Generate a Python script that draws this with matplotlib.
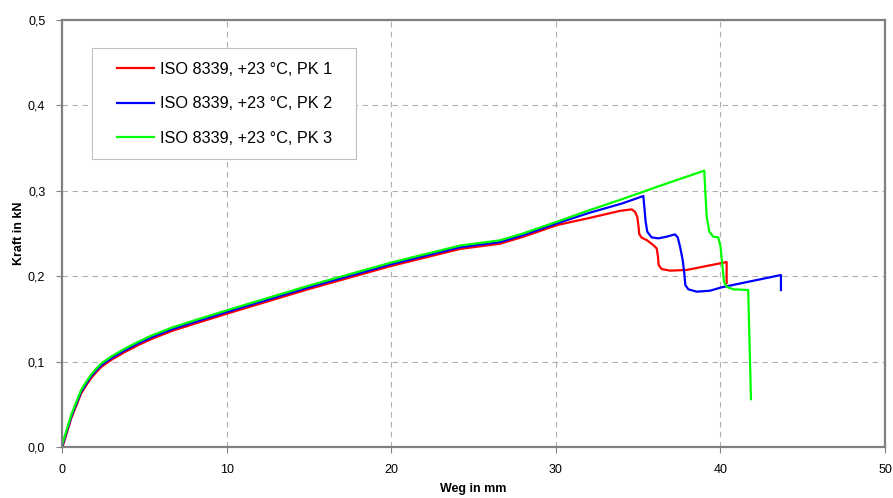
import matplotlib.pyplot as plt
from matplotlib.patches import Rectangle
from matplotlib.ticker import FuncFormatter

plt.rcParams['font.family'] = ['Liberation Sans', 'DejaVu Sans']

# Weg in mm / Kraft in kN
x_start = [0, 0.57, 1.17, 1.5, 1.78, 2.1, 2.4, 3.0, 3.8, 4.6, 5.5, 6.7, 8,
           10, 15, 20, 24.2, 25.4, 26.6, 28, 30.1]
y_start = [0, 0.036, 0.065, 0.075, 0.083, 0.090, 0.096, 0.104, 0.113, 0.121, 0.129,
           0.138, 0.146, 0.158, 0.187, 0.214, 0.234, 0.237, 0.240, 0.248, 0.262]

x_pk1 = x_start + [32, 33.9, 34.61, 34.81, 34.95, 35.03, 35.07, 35.22, 35.52, 35.92,
                   36.13, 36.21, 36.25, 36.43, 36.94, 37.95, 40.38, 40.38]
y_pk1 = [v - 0.002 for v in y_start] + [0.268, 0.2765, 0.2783, 0.2755, 0.2697, 0.258,
                                        0.2494, 0.2451, 0.2424, 0.2365, 0.2326, 0.2228,
                                        0.2131, 0.2084, 0.2065, 0.2073, 0.2166, 0.192]

x_pk2 = x_start + [32, 34, 35.32, 35.38, 35.46, 35.56, 35.82, 36.23, 36.74, 37.24,
                   37.41, 37.55, 37.71, 37.81, 37.87, 38.05, 38.56, 39.37, 40.08, 43.68,
                   43.68]
y_pk2 = y_start + [0.274, 0.285, 0.2939, 0.2814, 0.2638, 0.2521, 0.2455, 0.2443, 0.2463,
                   0.249, 0.2455, 0.2346, 0.219, 0.2034, 0.1897, 0.1847, 0.1819, 0.183,
                   0.187, 0.2014, 0.1838]

x_pk3 = x_start + [32, 34, 36.2, 39.02, 39.08, 39.17, 39.33, 39.57, 39.87, 40.01, 40.11,
                   40.22, 40.38, 40.78, 41.69, 41.86]
y_pk3 = [v + 0.002 for v in y_start] + [0.277, 0.290, 0.305, 0.3236, 0.3009, 0.2697,
                                        0.2521, 0.2463, 0.2455, 0.2346, 0.215, 0.1936,
                                        0.1877, 0.1847, 0.1838, 0.056]

labels = ['ISO 8339, +23 °C, PK 1', 'ISO 8339, +23 °C, PK 2', 'ISO 8339, +23 °C, PK 3']
colors = ['#ff0000', '#0000ff', '#00ff00']

fig = plt.figure(figsize=(8.93, 4.98), dpi=100)
ax = fig.add_axes([0.0694, 0.1024, 0.9216, 0.8574])

for xs, ys, lab, c in zip([x_pk1, x_pk2, x_pk3], [y_pk1, y_pk2, y_pk3], labels, colors):
    ax.plot(xs, ys, color=c, linewidth=1.6, label=lab, solid_joinstyle='round')

ax.set_xlim(0, 50)
ax.set_ylim(0, 0.5)
ax.set_xticks([0, 10, 20, 30, 40, 50])
ax.set_yticks([0, 0.1, 0.2, 0.3, 0.4, 0.5])
ax.yaxis.set_major_formatter(FuncFormatter(lambda v, p: f'{v:.1f}'.replace('.', ',')))

ax.grid(True, color='#b0b0b0', linestyle=(0, (5, 4)), linewidth=0.8)
for s in ax.spines.values():
    s.set_color('#808080')
    s.set_linewidth(1.6)
ax.tick_params(colors='#808080', labelcolor='black', labelsize=9, length=4, width=0.8,
               pad=8)

ax.set_xlabel('Weg in mm', fontsize=9, fontweight='bold', labelpad=5)
ax.set_ylabel('Kraft in kN', fontsize=9, fontweight='bold', labelpad=2)

# Legendenrahmen (weiß, deckt das Gitter ab)
ax.add_patch(Rectangle((0.0365, 0.6745), 0.3208, 0.2599, transform=ax.transAxes,
                       facecolor='white', edgecolor='#c0c0c0', linewidth=0.8, zorder=4))
leg = ax.legend(loc='upper left', bbox_to_anchor=(0.0668, 0.902), fontsize=11.7,
                frameon=False, handlelength=2.25, labelspacing=1.2, borderpad=0,
                handletextpad=0.4, borderaxespad=0)
leg.set_zorder(5)

fig.savefig('out.png', dpi=100)
